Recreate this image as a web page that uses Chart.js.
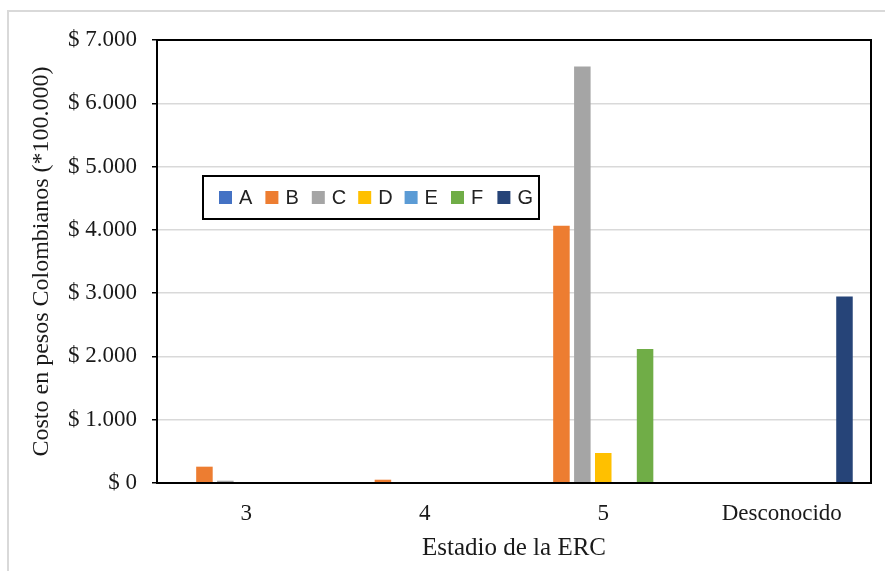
<!DOCTYPE html>
<html>
<head>
<meta charset="utf-8">
<script src="https://cdn.jsdelivr.net/npm/chart.js@4.4.1/dist/chart.umd.min.js"></script>
<style>
  body { margin: 0; background: #fff; }
  canvas { display: block; }
</style>
</head>
<body>
<canvas id="COSTOS" width="885" height="571"></canvas>
<script>
// datos
const categorias = ['3', '4', '5', 'Desconocido'];
const serieA = [0, 0, 0, 0];
const serieB = [258, 52, 4065, 0];
const serieC = [36, 0, 6580, 0];
const serieD = [0, 0, 474, 0];
const serieE = [0, 0, 0, 0];
const serieF = [0, 0, 2116, 0];
const serieG = [0, 0, 0, 2948];
const nombres = ['A', 'B', 'C', 'D', 'E', 'F', 'G'];
const colores = ['#4472C4', '#ED7D31', '#A5A5A5', '#FFC000', '#5B9BD5', '#70AD47', '#264478'];
const yMin = 0, yMax = 7000, yPaso = 1000;

const series = [serieA, serieB, serieC, serieD, serieE, serieF, serieG];

function formatoPesos(v) {
  if (v === 0) return '$ 0';
  return '$ ' + Math.floor(v / 1000) + '.' + String(v % 1000).padStart(3, '0');
}

// marco gris de fondo y borde negro del area
const marco = {
  id: 'marco',
  beforeDraw(chart) {
    const c = chart.ctx;
    c.save();
    c.fillStyle = '#fff';
    c.fillRect(0, 0, chart.width, chart.height);
    c.strokeStyle = '#d9d9d9';
    c.lineWidth = 2;
    c.beginPath();
    c.moveTo(8, chart.height);
    c.lineTo(8, 11);
    c.lineTo(chart.width, 11);
    c.stroke();
    c.restore();
  },
  afterDraw(chart) {
    const a = chart.chartArea;
    const c = chart.ctx;
    c.save();
    c.strokeStyle = '#000';
    c.lineWidth = 2;
    c.strokeRect(a.left, a.top, a.right - a.left, a.bottom - a.top);
    c.restore();
  }
};

// leyenda dentro del area, con caja
const leyenda = {
  id: 'leyenda',
  afterDraw(chart) {
    const a = chart.chartArea;
    const c = chart.ctx;
    const x0 = a.left + 46, y0 = a.top + 136, w = 336, h = 43;
    c.save();
    c.fillStyle = '#fff';
    c.fillRect(x0, y0, w, h);
    c.strokeStyle = '#000';
    c.lineWidth = 2;
    c.strokeRect(x0, y0, w, h);
    c.font = '20px "Liberation Sans", Arial, sans-serif';
    c.textBaseline = 'middle';
    chart.data.datasets.forEach((ds, i) => {
      const x = x0 + 16 + i * 46.4;
      c.fillStyle = ds.backgroundColor;
      c.fillRect(x, y0 + 15, 13, 13);
      c.fillStyle = '#222';
      c.fillText(ds.label, x + 20, y0 + 22);
    });
    c.restore();
  }
};

const ctx = document.getElementById('COSTOS');

new Chart(ctx, {
  type: 'bar',
  data: {
    labels: categorias,
    datasets: series.map((s, i) => ({
      label: nombres[i],
      data: s,
      backgroundColor: colores[i],
      borderWidth: 0,
      categoryPercentage: 0.82,
      barPercentage: 0.79
    }))
  },
  options: {
    responsive: false,
    animation: false,
    layout: { padding: { top: 40, right: 14, left: 0, bottom: 0 } },
    plugins: {
      legend: { display: false },
      tooltip: { enabled: false }
    },
    scales: {
      x: {
        grid: { display: false, drawTicks: false },
        border: { display: true, color: '#000', width: 2 },
        ticks: {
          color: '#1a1a1a',
          padding: 17,
          font: { family: '"Liberation Serif", "Times New Roman", serif', size: 23 }
        },
        title: {
          display: true,
          text: 'Estadio de la ERC',
          color: '#1a1a1a',
          padding: { top: 0, bottom: 8 },
          font: { family: '"Liberation Serif", "Times New Roman", serif', size: 25, lineHeight: 1.2 }
        },
        afterFit(scale) { scale.height = 88; }
      },
      y: {
        min: yMin,
        max: yMax,
        grid: { color: '#d9d9d9', lineWidth: 1.5, tickColor: '#000', tickWidth: 1.5, tickLength: 5 },
        border: { display: true, color: '#000', width: 2 },
        ticks: {
          stepSize: yPaso,
          color: '#1a1a1a',
          padding: 15,
          font: { family: '"Liberation Serif", "Times New Roman", serif', size: 23 },
          callback: (v) => formatoPesos(v)
        },
        title: {
          display: true,
          text: 'Costo en pesos Colombianos (*100.000)',
          color: '#1a1a1a',
          padding: { top: 27, bottom: 0 },
          font: { family: '"Liberation Serif", "Times New Roman", serif', size: 24, lineHeight: 1.2 }
        },
        afterFit(scale) { scale.width = 157; }
      }
    }
  },
  plugins: [marco, leyenda]
});
</script>
</body>
</html>
